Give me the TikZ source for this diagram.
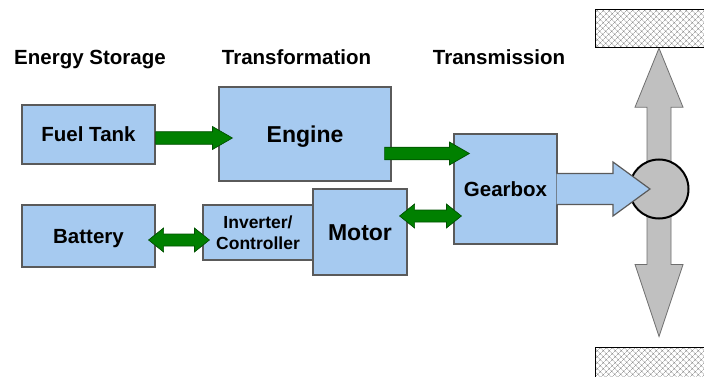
\documentclass[tikz,border=0pt]{standalone}
\usepackage{fontspec}
\setmainfont{Liberation Sans}
\usetikzlibrary{calc,patterns.meta,backgrounds}

\definecolor{blockblue}{RGB}{166,202,240}
\definecolor{blockedge}{RGB}{90,90,90}
\definecolor{flowgreen}{RGB}{0,128,0}
\definecolor{flowedge}{RGB}{0,80,0}
\definecolor{axlegray}{RGB}{192,192,192}
\definecolor{axleedge}{RGB}{110,110,110}

\tikzset{
  heading/.style={anchor=base, font=\bfseries\fontsize{20.5}{24}\selectfont},
  block/.style={draw=blockedge, fill=blockblue, line width=1.2pt, inner sep=0pt,
    align=center, text height=14.7pt, text depth=0pt,
    font=\bfseries\fontsize{20.5}{24}\selectfont},
  bigblock/.style={block, text height=16.5pt,
    font=\bfseries\fontsize{23}{27}\selectfont},
  smallblock/.style={block, text height=, text depth=,
    font=\bfseries\fontsize{17.5}{21}\selectfont},
  road/.style={draw, line width=1pt, minimum width=125pt, inner sep=0pt,
    pattern={Hatch[angle=45,distance=4pt,line width=0.4pt]}, pattern color=gray},
  % fat horizontal arrows, drawn as outlines between two points
  flow/.style={draw=flowedge, fill=flowgreen, line width=0.7pt,
    to path={let \p1=(\tikztostart), \p2=(\tikztotarget) in
      (\x1,\y1+6.3pt) -- (\x2-20pt,\y1+6.3pt) -- (\x2-20pt,\y1+11.5pt)
      -- (\x2,\y1) -- (\x2-20pt,\y1-11.5pt) -- (\x2-20pt,\y1-6.3pt)
      -- (\x1,\y1-6.3pt) -- cycle}},
  twoway/.style={draw=flowedge, fill=flowgreen, line width=0.7pt,
    to path={let \p1=(\tikztostart), \p2=(\tikztotarget) in
      (\x1,\y1) -- (\x1+15pt,\y1+12pt) -- (\x1+15pt,\y1+6pt) -- (\x2-15pt,\y1+6pt)
      -- (\x2-15pt,\y1+12pt) -- (\x2,\y1) -- (\x2-15pt,\y1-12pt) -- (\x2-15pt,\y1-6pt)
      -- (\x1+15pt,\y1-6pt) -- (\x1+15pt,\y1-12pt) -- cycle}},
  % left end stays open so it merges with the gearbox
  drive/.style={draw=blockedge, fill=blockblue, line width=1.2pt,
    to path={let \p1=(\tikztostart), \p2=(\tikztotarget) in
      (\x1-1pt,\y1+15.5pt) -- (\x2-37pt,\y1+15.5pt) -- (\x2-37pt,\y1+27pt)
      -- (\x2,\y1) -- (\x2-37pt,\y1-27pt) -- (\x2-37pt,\y1-15.5pt)
      -- (\x1-1pt,\y1-15.5pt)}},
  axle/.style={draw=axleedge, fill=axlegray, line width=0.8pt,
    to path={let \p1=(\tikztostart), \p2=(\tikztotarget) in
      (\x1,\y1) -- (\x1+24pt,\y1-59pt) -- (\x1+12pt,\y1-59pt) -- (\x1+12pt,\y2+82pt)
      -- (\x1+24pt,\y2+82pt) -- (\x1,\y2+10pt) -- (\x1-24pt,\y2+82pt)
      -- (\x1-12pt,\y2+82pt) -- (\x1-12pt,\y1-59pt) -- (\x1-24pt,\y1-59pt) -- cycle}},
}

\begin{document}
\begin{tikzpicture}[x=1pt,y=-1pt]
  \useasboundingbox (0,0) rectangle (704,377);

  \node[heading] (hstore) at (90,65) {Energy Storage};
  \node[heading] (htrans) at (296.5,65) {Transformation};
  \node[heading] (hdrive) at (499,65) {Transmission};

  \node[block, minimum width=133pt, minimum height=59pt] (fuel) at (88.5,134.5) {Fuel Tank};
  \node[bigblock, minimum width=172pt, minimum height=94pt] (engine) at (305,134) {Engine};
  \node[block, minimum width=133pt, minimum height=62pt] (battery) at (88.5,236) {Battery};
  \node[smallblock, minimum width=110pt, minimum height=55pt] (inverter) at (258,232.5) {Inverter/\\Controller};
  \node[bigblock, minimum width=94pt, minimum height=86pt] (motor) at (360,232) {Motor};
  \node[block, minimum width=103pt, minimum height=110pt] (gearbox) at (505.5,189) {Gearbox};

  \draw[flow] ([yshift=-3.5pt]fuel.east) to ([xshift=14pt]engine.west);
  \draw[flow] ([xshift=-7pt,yshift=-19.5pt]engine.east) to ([xshift=16pt]gearbox.west);
  \draw[twoway] ([xshift=-7pt,yshift=-4pt]battery.east) to ([xshift=7pt]inverter.west);
  \draw[twoway] ([xshift=-8pt,yshift=16pt]motor.east) to ([xshift=8pt]gearbox.west);

  % road surfaces above and below the wheel
  \begin{scope}
    \clip (0,0) rectangle (704,377);
    \node[road, minimum height=38pt] (roadtop) at (657.5,29) {};
    \node[road, minimum height=43pt] (roadbot) at (657.5,368.5) {};
  \end{scope}

  \node[circle, draw, line width=2pt, fill=axlegray, minimum size=59pt, inner sep=0pt] (wheel) at (659,189) {};
  \begin{scope}[on background layer]
    \draw[axle] (wheel |- roadtop.south) to (wheel |- roadbot.north);
  \end{scope}
  \draw[drive] (gearbox.east) to ([xshift=-9pt]wheel.center);
\end{tikzpicture}
\end{document}
